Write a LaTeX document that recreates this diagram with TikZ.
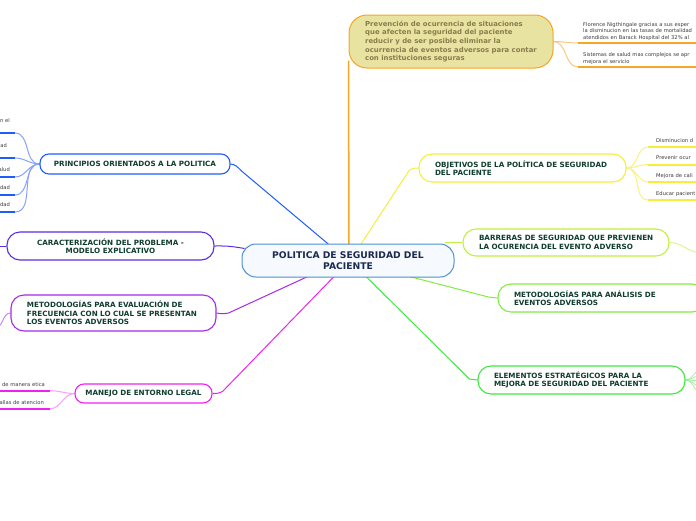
\documentclass[tikz,border=0pt]{standalone}
\usepackage{fontspec}
\setmainfont{DejaVu Sans}
\usetikzlibrary{calc,backgrounds}
\definecolor{cblue}{HTML}{4A90D0}
\definecolor{cfill}{HTML}{F6FAFE}
\definecolor{navy}{HTML}{1B2A4E}
\definecolor{tgreen}{HTML}{0F3D2E}
\definecolor{olivetext}{HTML}{8A7C4E}
\definecolor{khaki}{HTML}{E8E3A0}
\definecolor{corange}{HTML}{F5A623}
\definecolor{lorange}{HTML}{F8C880}
\definecolor{pblue}{HTML}{1F5CFF}
\definecolor{lblue}{HTML}{85A2FF}
\definecolor{cindigo}{HTML}{5A2DE0}
\definecolor{cviolet}{HTML}{A52AE8}
\definecolor{lviolet}{HTML}{C98AF5}
\definecolor{cmagenta}{HTML}{EE22EE}
\definecolor{lmagenta}{HTML}{F8A0F8}
\definecolor{cyellow}{HTML}{F5EE3A}
\definecolor{lyellow}{HTML}{F8F280}
\definecolor{cyg}{HTML}{C0F040}
\definecolor{lyg}{HTML}{D8F890}
\definecolor{cgreen}{HTML}{80EE40}
\definecolor{cbgreen}{HTML}{3EE83E}
\definecolor{lbgreen}{HTML}{90F090}
\definecolor{leaftext}{HTML}{3A3A3A}
\begin{document}
\begin{tikzpicture}[x=1pt,y=-1pt,
  box/.style={draw, fill=white, rounded corners=13pt, line width=1.1pt, inner sep=0pt, text=tgreen,
    font=\bfseries\fontsize{7.2}{8.5}\selectfont},
  leafR/.style={anchor=south west, inner xsep=8pt, inner ysep=2.5pt, align=left,
    text=leaftext, font=\fontsize{5.2}{6.5}\selectfont},
  leafL/.style={anchor=south east, inner xsep=5pt, inner ysep=2.5pt, text depth=2pt, align=right,
    text=leaftext, font=\fontsize{5.2}{6.5}\selectfont},
  conn/.style={line width=1pt},
  uline/.style={line width=2pt}]
\useasboundingbox (0,0) rectangle (696,520);
\clip (0,0) rectangle (696,520);
\coordinate (fl) at (-2,0);
\coordinate (fr) at (700,0);

% central node
\node[draw=cblue, fill=cfill, rounded corners=14pt, line width=1pt, inner sep=0pt,
  minimum width=212pt, minimum height=33pt, align=center, text=navy,
  font=\bfseries\fontsize{9.2}{10.5}\selectfont] (center) at (348,260.5)
  {POLITICA DE SEGURIDAD DEL\\PACIENTE};

% top orange node
\node[draw=corange, fill=khaki, rounded corners=18pt, line width=1pt, inner sep=0pt,
  minimum width=204pt, minimum height=53pt, align=left, text=olivetext,
  font=\bfseries\fontsize{6.9}{8.6}\selectfont] (top) at (451,41.5)
  {Prevención de ocurrencia de situaciones\\que afecten la seguridad del paciente\\reducir y de ser posible eliminar la\\ocurrencia de eventos adversos para contar\\con instituciones seguras};

% left nodes
\node[box, draw=pblue, rounded corners=9pt, minimum width=190pt, minimum height=20pt] (princ) at (135,164)
  {PRINCIPIOS ORIENTADOS A LA POLITICA};
\node[box, draw=cindigo, minimum width=207pt, minimum height=28pt, align=center] (caract) at (110.5,246)
  {CARACTERIZACIÓN DEL PROBLEMA -\\MODELO EXPLICATIVO};
\node[box, draw=cviolet, minimum width=205pt, minimum height=36pt, text width=173pt, inner xsep=16pt, align=left] (meval) at (113.5,313)
  {\mbox{METODOLOGÍAS PARA EVALUACIÓN DE}\\\mbox{FRECUENCIA CON LO CUAL SE PRESENTAN}\\\mbox{LOS EVENTOS ADVERSOS}};
\node[box, draw=cmagenta, rounded corners=9pt, minimum width=137pt, minimum height=19pt] (manejo) at (143.5,393.5)
  {MANEJO DE ENTORNO LEGAL};

% right nodes
\node[box, draw=cyellow, minimum width=207pt, minimum height=28pt, text width=175pt, inner xsep=16pt, align=left] (obj) at (522.5,168)
  {\mbox{OBJETIVOS DE LA POLÍTICA DE SEGURIDAD}\\DEL PACIENTE};
\node[box, draw=cyg, minimum width=206pt, minimum height=27pt, text width=174pt, inner xsep=16pt, align=left] (barr) at (566,242.5)
  {\mbox{BARRERAS DE SEGURIDAD QUE PREVIENEN}\\\mbox{LA OCURENCIA DEL EVENTO ADVERSO}};
\node[box, draw=cgreen, minimum width=207pt, minimum height=28pt, text width=175pt, inner xsep=16pt, align=left] (manal) at (601.5,298)
  {\mbox{METODOLOGÍAS PARA ANÁLISIS DE}\\EVENTOS ADVERSOS};
\node[box, draw=cbgreen, minimum width=207pt, minimum height=28pt, text width=175pt, inner xsep=16pt, align=left] (elem) at (581.5,380)
  {\mbox{ELEMENTOS ESTRATÉGICOS PARA LA}\\\mbox{MEJORA DE SEGURIDAD DEL PACIENTE}};

% leaves of top node
\node[leafR, inner xsep=5pt, text width=160pt] (lf1) at (578,43)
  {Florence Nigthingale gracias a sus esper\\la disminucion en las tasas de mortalidad\\atendidos en Barack Hospital del 32\% al};
\node[leafR, inner xsep=5pt, text width=160pt] (lf2) at (578,67)
  {Sistemas de salud mas complejos se apr\\mejora el servicio};

% leaves of objetivos
\node[leafR, text depth=2pt, text width=60pt] (lo1) at (648,147) {Disminucion d};
\node[leafR, text depth=2pt, text width=60pt] (lo2) at (648,164.5) {Prevenir ocur};
\node[leafR, text depth=2pt, text width=60pt] (lo3) at (648,182) {Mejora de cali};
\node[leafR, text depth=2pt, text width=60pt] (lo4) at (648,200) {Educar pacient};

% leaves of principios
\node[leafL, text depth=8pt] (ll1) at (15,133) {n el};
\node[leafL, text depth=8pt, inner xsep=8pt] (ll2) at (15,158) {ad};
\node[leafL, text depth=3pt] (ll3) at (15,177) {alud};
\node[leafL, text depth=3pt] (ll4) at (15,195) {dad};
\node[leafL, text depth=3pt] (ll5) at (15,212) {dad};

% leaves of manejo
\node[leafL] (lm1) at (50,390.7) {de manera etica};
\node[leafL, inner xsep=6pt] (lm2) at (50,408.7) {allas de atencion};

\coordinate (offB) at (702,253);
\coordinate (offE1) at (702,369);
\coordinate (offE2) at (702,375);
\coordinate (offE3) at (702,381);
\coordinate (offE4) at (702,387);
\coordinate (offE5) at (702,393);
\coordinate (offC) at (-5,246);
\coordinate (offM) at (-5,328);

\begin{pgfonlayer}{background}
% main connectors
\draw[conn, pblue] ($(center.north)+(-18,2)$) -- ($(princ.east)+(11,7)$)
  .. controls ($(princ.east)+(5,1)$) .. (princ.east);
\draw[line width=1.5pt, corange] ($(center.north)+(1,2)$) -- ($(top.south west)+(0,-8)$);
\draw[conn, cyellow] ($(center.north)+(12,2)$) -- ($(obj.west)+(-9,2)$)
  .. controls ($(obj.west)+(-4,0)$) .. (obj.west);
\draw[conn, cyg] ($(center.north east)+(-10,-1)$) -- (barr.west);
\draw[conn, cgreen] ($(center.south east)+(-49,-2)$) -- ($(manal.west)+(-9,-1)$)
  .. controls ($(manal.west)+(-4,0)$) .. (manal.west);
\draw[conn, cbgreen] ($(center.south)+(17,-2)$) -- ($(elem.west)+(-8,-1)$)
  .. controls ($(elem.west)+(-4,0)$) .. (elem.west);
\draw[conn, cmagenta] ($(center.south)+(-13,-2)$) -- ($(manejo.east)+(10,-2)$)
  .. controls ($(manejo.east)+(5,0)$) .. (manejo.east);
\draw[conn, cviolet] ($(center.south)+(-38,-2)$) -- ($(meval.east)+(12,0)$)
  .. controls ($(meval.east)+(6,1)$) .. (meval.east);
\draw[conn, cindigo] ($(center.west)+(3,-12)$) .. controls ($(center.west)+(-14,-15)$) and ($(caract.east)+(10,0)$) .. (caract.east);

% top leaves
\draw[conn, lorange] (top.east) to[out=0,in=180] (lf1.south west);
\draw[conn, lorange] (top.east) to[out=0,in=180] (lf2.south west);
\draw[uline, corange] (lf1.south west) -- (lf1.south east);
\draw[uline, corange] (lf2.south west) -- (lf2.south east);

% objetivos leaves
\foreach \n in {lo1,lo2,lo3,lo4}{
  \draw[conn, lyellow] (obj.east) to[out=0,in=180] (\n.south west);
  \draw[uline, cyellow] (\n.south west) -- (\n.south east);
}

% principios leaves
\foreach \n in {ll1,ll2,ll3,ll4,ll5}{
  \draw[conn, lblue] (princ.west) to[out=180,in=0] (\n.south east);
  \draw[uline, pblue] (\n.south east) -- (\n.south east -| fl);
}

% manejo leaves
\foreach \n in {lm1,lm2}{
  \draw[conn, lmagenta] (manejo.west) to[out=180,in=0] (\n.south east);
  \draw[uline, cmagenta] (\n.south east) -- (\n.south east -| fl);
}

% stubs leaving the picture
\draw[conn, lyg] (barr.east) to[out=0,in=180] (offB);
\foreach \n in {offE1,offE2,offE3,offE4,offE5}{
  \draw[line width=0.6pt, lbgreen] (elem.east) to[out=0,in=180] (\n);
}
\draw[conn, cindigo] (caract.west) -- (offC);
\draw[conn, lviolet] (meval.west) to[out=180,in=0] (offM);
\end{pgfonlayer}
\end{tikzpicture}
\end{document}
